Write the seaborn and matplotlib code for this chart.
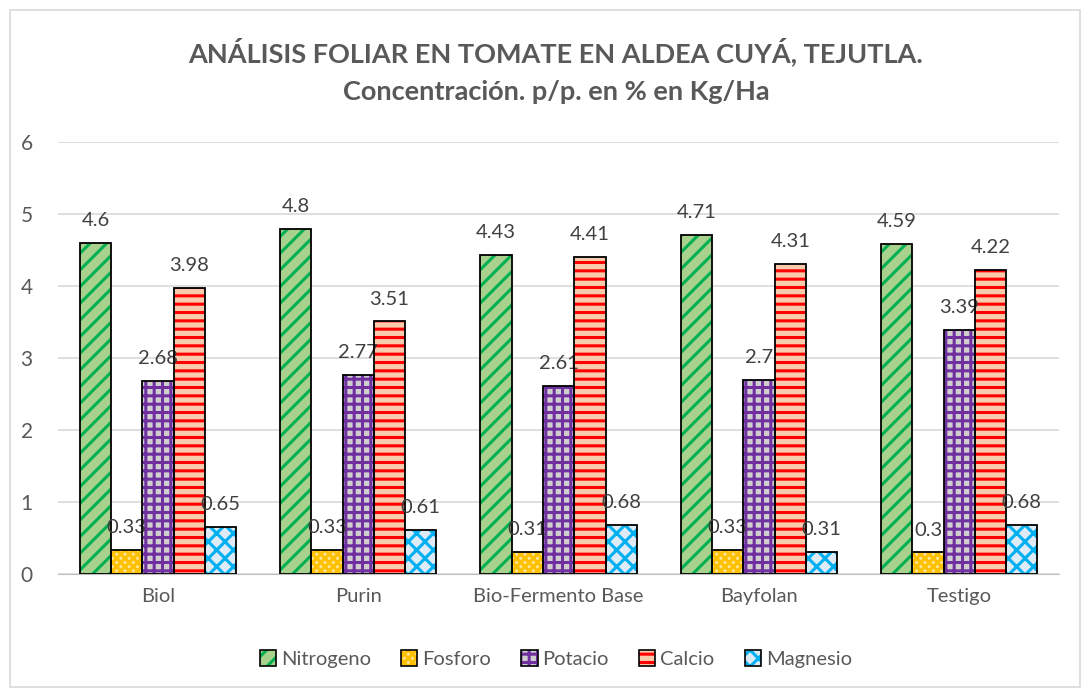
import matplotlib
matplotlib.use("Agg")
import matplotlib.pyplot as plt
from matplotlib.patches import Patch, Rectangle
from matplotlib.legend_handler import HandlerBase
import seaborn as sns
import pandas as pd

# data
treatments = ["Biol", "Purin", "Bio-Fermento Base", "Bayfolan", "Testigo"]
nutrients = ["Nitrogeno", "Fosforo", "Potacio", "Calcio", "Magnesio"]
nitrogeno = [4.6, 4.8, 4.43, 4.71, 4.59]
fosforo = [0.33, 0.33, 0.31, 0.33, 0.3]
potacio = [2.68, 2.77, 2.61, 2.7, 3.39]
calcio = [3.98, 3.51, 4.41, 4.31, 4.22]
magnesio = [0.65, 0.61, 0.68, 0.31, 0.68]

face_colors = ["#A9D18E", "#FFE699", "#D0CECE", "#F8CBAD", "#DDEBF7"]
hatch_colors = ["#00B050", "#FFC000", "#7030A0", "#FF0000", "#00B0F0"]
hatches = ["//", "xxxx", "++", "--", "xx"]

rows = []
for name, vals in zip(nutrients, [nitrogeno, fosforo, potacio, calcio, magnesio]):
    for t, v in zip(treatments, vals):
        rows.append({"Tratamiento": t, "Nutriente": name, "Valor": v})
df = pd.DataFrame(rows)


class OutlinedHatch(HandlerBase):
    # hatched square with a black border, like the Excel legend keys
    def create_artists(self, legend, orig_handle, xdescent, ydescent,
                       width, height, fontsize, trans):
        inner = Rectangle((-xdescent, -ydescent), width, height, transform=trans,
                          facecolor=orig_handle.get_facecolor(),
                          edgecolor=orig_handle.get_edgecolor(),
                          hatch=orig_handle.get_hatch(), linewidth=0)
        outer = Rectangle((-xdescent, -ydescent), width, height, transform=trans,
                          fill=False, edgecolor="black", linewidth=1.2)
        return [inner, outer]


sns.set_style("white")
plt.rcParams["font.family"] = ["Lato", "DejaVu Sans"]
plt.rcParams["hatch.linewidth"] = 2.2

fig = plt.figure(figsize=(10.9, 6.9), dpi=100)
ax = fig.add_axes([0.053, 0.168, 0.919, 0.626])

sns.barplot(
    data=df, x="Tratamiento", y="Valor", hue="Nutriente",
    order=treatments, hue_order=nutrients,
    palette=face_colors, width=0.78, saturation=1, ax=ax, legend=False,
)

for i, container in enumerate(ax.containers):
    for bar in container:
        bar.set_hatch(hatches[i])
        bar.set_edgecolor(hatch_colors[i])
        bar.set_linewidth(0)
        ax.add_patch(Rectangle(bar.get_xy(), bar.get_width(), bar.get_height(),
                               fill=False, edgecolor="black", linewidth=1.3, zorder=3))
    labels = [f"{v:g}" for v in container.datavalues]
    ax.bar_label(container, labels=labels, padding=10, fontsize=14.5, color="#404040")

ax.set_ylim(0, 6)
ax.set_yticks(range(0, 7))
ax.yaxis.grid(True, color="#D9D9D9", linewidth=1.2)
ax.set_axisbelow(True)
for s in ["top", "right", "left"]:
    ax.spines[s].set_visible(False)
ax.spines["bottom"].set_color("#BFBFBF")
ax.tick_params(axis="y", length=0, labelsize=15, colors="#595959", pad=18)
ax.tick_params(axis="x", length=0, labelsize=14.5, colors="#595959", pad=10)
ax.set_xlabel("")
ax.set_ylabel("")

fig.text(0.51, 0.925, "ANÁLISIS FOLIAR EN TOMATE EN ALDEA CUYÁ, TEJUTLA.",
         ha="center", va="center", fontsize=19.5, fontweight="bold", color="#595959")
fig.text(0.51, 0.867, "Concentración. p/p. en % en Kg/Ha",
         ha="center", va="center", fontsize=19.5, fontweight="bold", color="#595959")

handles = [Patch(facecolor=f, edgecolor=h, hatch=ht, linewidth=0)
           for f, h, ht in zip(face_colors, hatch_colors, hatches)]
leg = fig.legend(handles, nutrients, loc="center", bbox_to_anchor=(0.51, 0.045),
                 ncol=5, frameon=False, fontsize=14.5, handlelength=0.8, handleheight=0.8,
                 handletextpad=0.25, columnspacing=1.5, labelcolor="#595959",
                 handler_map={Patch: OutlinedHatch()})

fig.patches.append(Rectangle((0.009, 0.005), 0.982, 0.98, transform=fig.transFigure,
                             fill=False, edgecolor="#D9D9D9", linewidth=1.2))

fig.savefig("out.png", dpi=100)
